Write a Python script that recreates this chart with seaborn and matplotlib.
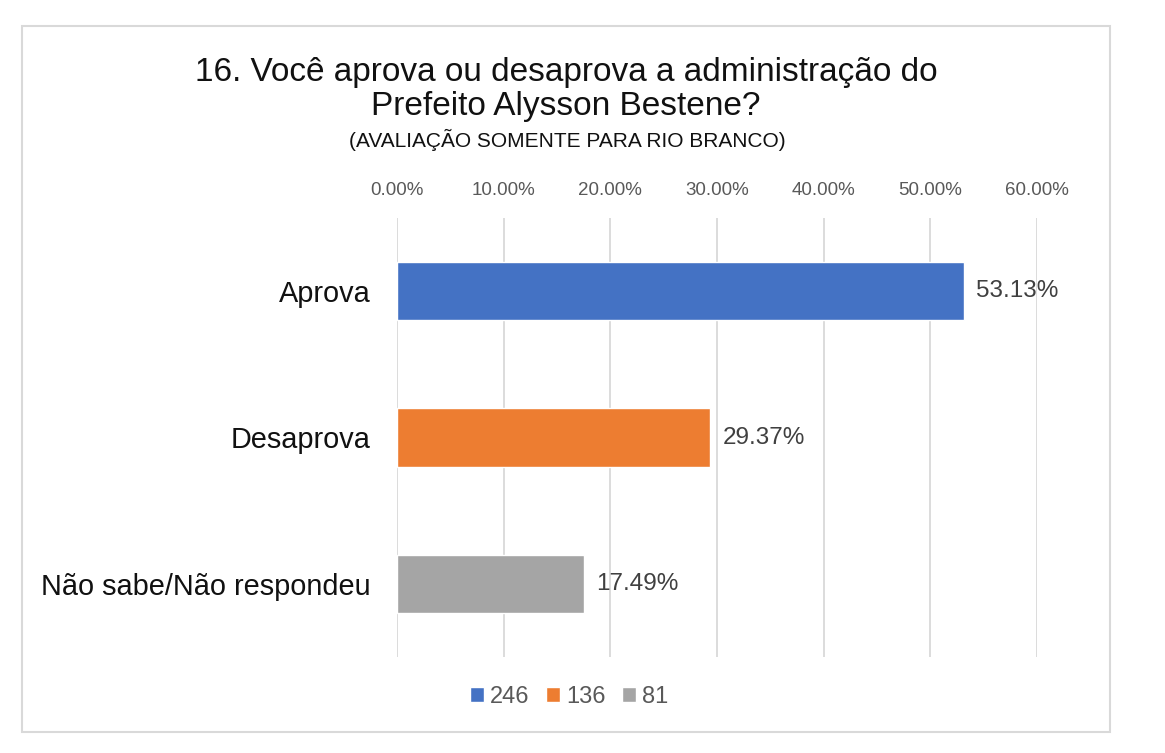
import matplotlib
matplotlib.use("Agg")
import matplotlib.pyplot as plt
import matplotlib.patches as mpatches
from matplotlib.ticker import FixedLocator, FuncFormatter
import seaborn as sns
import pandas as pd

categories = ["Aprova", "Desaprova", "Não sabe/Não respondeu"]
percentages = [53.13, 29.37, 17.49]
counts = ["246", "136", "81"]
colors = ["#4472C4", "#ED7D31", "#A5A5A5"]
x_ticks = [0, 10, 20, 30, 40, 50, 60]

title_line1 = "16. Você aprova ou desaprova a administração do"
title_line2 = "Prefeito Alysson Bestene?"
subtitle = "(AVALIAÇÃO SOMENTE PARA RIO BRANCO)"

sns.set_theme(style="white")
plt.rcParams["font.family"] = ["Liberation Sans", "DejaVu Sans"]

df = pd.DataFrame({"categoria": categories, "pct": percentages, "n": counts})

W, H = 1165, 753
fig = plt.figure(figsize=(W / 100, H / 100), dpi=100)
ax = fig.add_axes([397 / W, 1 - 657 / H, (1037 - 397) / W, (657 - 218) / H])

sns.barplot(data=df, x="pct", y="categoria", hue="n", hue_order=counts,
            palette=colors, orient="h", dodge=False, width=0.4,
            saturation=1, ax=ax, legend=True)

ax.set_xlim(0, 60)
ax.set_ylim(2.5, -0.5)
ax.xaxis.set_major_locator(FixedLocator(x_ticks))
ax.xaxis.set_major_formatter(FuncFormatter(lambda v, p: f"{v:.2f}%"))
ax.xaxis.tick_top()
ax.grid(axis="x", color="#d9d9d9", linewidth=1.3)
ax.set_axisbelow(True)
for s in ax.spines.values():
    s.set_visible(False)
ax.set_xlabel("")
ax.set_ylabel("")
ax.tick_params(axis="x", length=0, pad=14, labelsize=13.5, labelcolor="#595959")
ax.tick_params(axis="y", length=0, pad=19, labelsize=20.8, labelcolor="#111111")

for cont in ax.containers:
    for bar in cont:
        w = bar.get_width()
        if w > 0:
            ax.annotate(f"{w:.2f}%", (w, bar.get_y() + bar.get_height() / 2),
                        xytext=(9, 0), textcoords="offset points",
                        ha="left", va="center", fontsize=17.5, color="#404040")

leg = ax.get_legend()
handles = leg.legend_handles
leg.remove()
fig.legend(handles, counts, loc="center", bbox_to_anchor=(569 / W, 1 - 697 / H),
           ncol=3, frameon=False, fontsize=17, labelcolor="#595959",
           handlelength=0.6, handleheight=0.6, handletextpad=0.25,
           columnspacing=0.7)

fig.text(566 / W, 1 - 81 / H, title_line1, ha="center", va="baseline",
         fontsize=24, color="#111111")
fig.text(566 / W, 1 - 115 / H, title_line2, ha="center", va="baseline",
         fontsize=24, color="#111111")
fig.text(567 / W, 1 - 147 / H, subtitle, ha="center", va="baseline",
         fontsize=15, color="#111111")

frame = mpatches.Rectangle((22 / W, 1 - 732 / H), (1110 - 22) / W, (732 - 26) / H,
                           transform=fig.transFigure, fill=False,
                           edgecolor="#d9d9d9", linewidth=1.5)
fig.patches.append(frame)

fig.savefig("out.png", dpi=100, facecolor="white")
